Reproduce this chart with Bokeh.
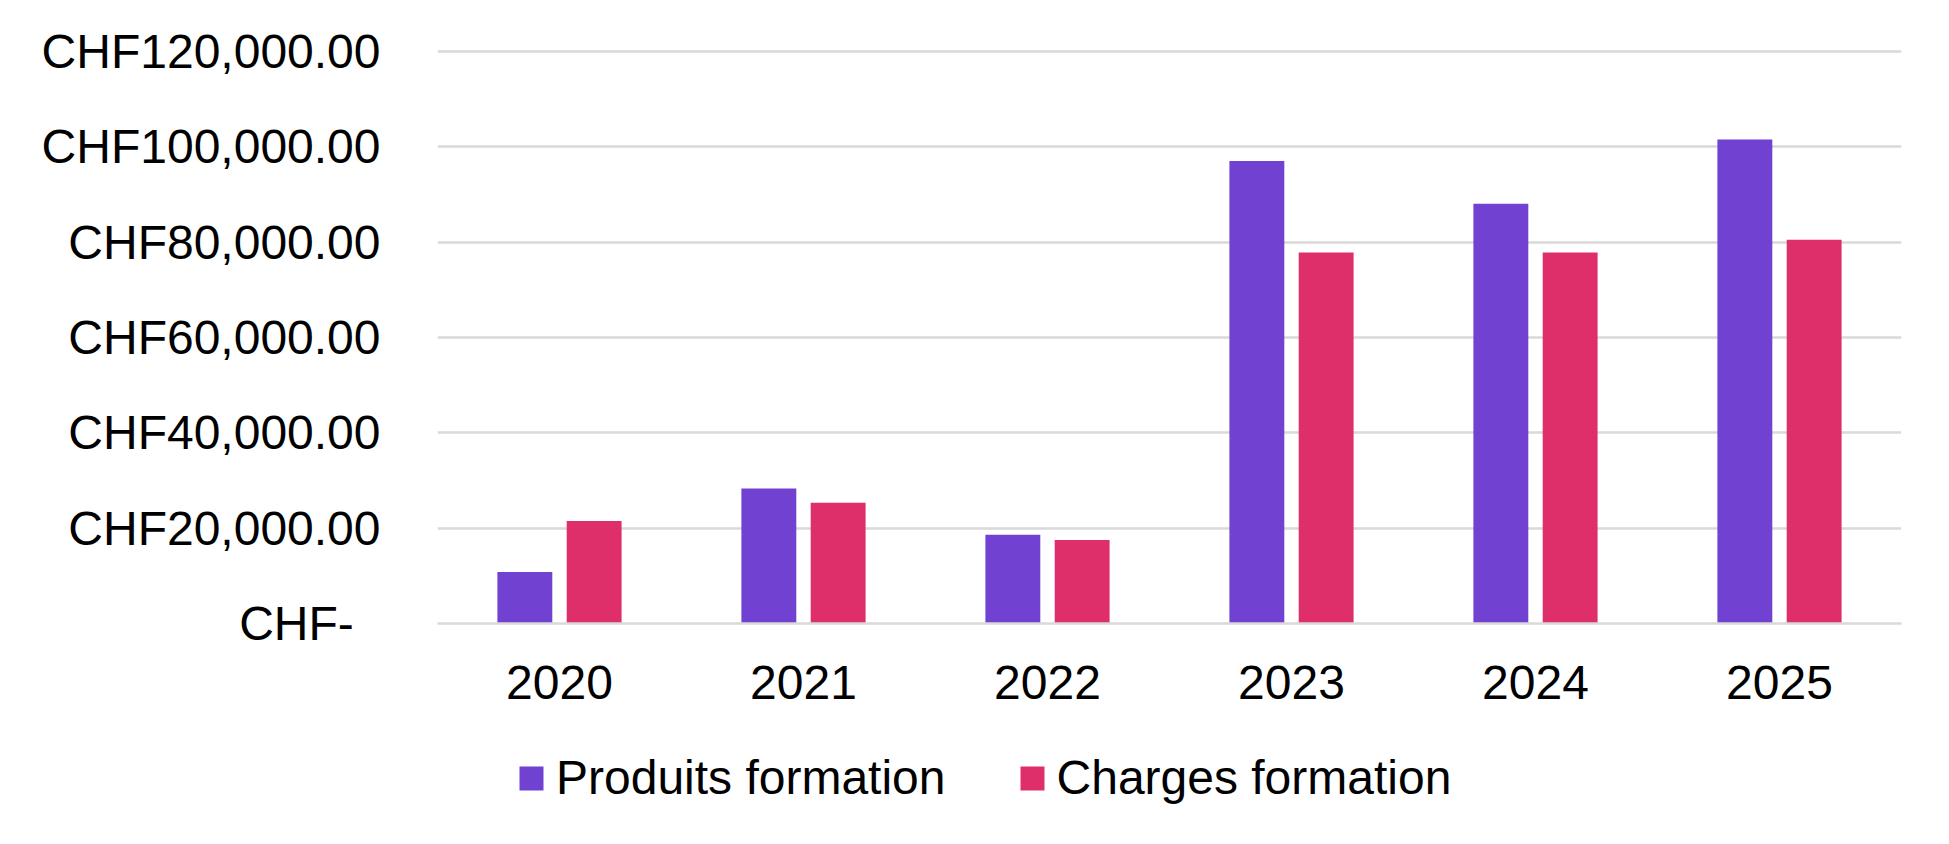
from bokeh.plotting import figure
from bokeh.layouts import column
from bokeh.models import ColumnDataSource, FactorRange, Range1d, Legend, LegendItem, FixedTicker
from bokeh.transform import dodge
from bokeh.embed import file_html
from bokeh.resources import INLINE

years = ["2020", "2021", "2022", "2023", "2024", "2025"]
produits = [10800, 28300, 18600, 97000, 88000, 101500]
charges = [21500, 25300, 17500, 77800, 77800, 80500]

y_ticks = [0, 20000, 40000, 60000, 80000, 100000, 120000]
y_labels = ["CHF-\u00a0\u00a0", "CHF20,000.00", "CHF40,000.00", "CHF60,000.00",
            "CHF80,000.00", "CHF100,000.00", "CHF120,000.00"]
series = ["Produits formation", "Charges formation"]

FONT = "Liberation Sans"
SIZE = "48px"
PURPLE = "#7141d1"
RED = "#de2f6b"

source = ColumnDataSource(data=dict(year=years, produits=produits, charges=charges))

# === Main chart === #
p = figure(x_range=FactorRange(factors=years), y_range=Range1d(0, 121000),
           width=1938, height=720, toolbar_location=None, tools="",
           output_backend="svg",
           min_border_left=437, min_border_right=37, min_border_top=46, min_border_bottom=97)

p.outline_line_color = None
p.background_fill_color = "white"
p.border_fill_color = "white"

p.vbar(x=dodge("year", -0.142, range=p.x_range), top="produits", width=0.225,
       source=source, fill_color=PURPLE, line_color=None)
p.vbar(x=dodge("year", 0.142, range=p.x_range), top="charges", width=0.225,
       source=source, fill_color=RED, line_color=None)

p.xgrid.grid_line_color = None
p.ygrid.grid_line_color = "#d9d9d9"
p.ygrid.grid_line_width = 2.5
p.yaxis.ticker = FixedTicker(ticks=y_ticks)
p.yaxis.major_label_overrides = {t: lab for t, lab in zip(y_ticks, y_labels)}

for ax in (p.xaxis, p.yaxis):
    ax.major_tick_line_color = None
    ax.minor_tick_line_color = None
    ax.major_label_text_font = FONT
    ax.major_label_text_font_size = SIZE
    ax.major_label_text_color = "black"

p.yaxis.axis_line_color = None
p.yaxis.major_label_standoff = 51
p.xaxis.axis_line_color = "#d9d9d9"
p.xaxis.axis_line_width = 2.5
p.xaxis.major_label_standoff = 36

# === Legend strip (below the chart, frame aligned with the chart) === #
leg = figure(width=1938, height=114, toolbar_location=None, tools="",
             output_backend="svg", x_axis_type=None, y_axis_type=None,
             x_range=FactorRange(factors=years), y_range=Range1d(0, 1),
             min_border=0, outline_line_color=None)
leg.xgrid.visible = False
leg.ygrid.visible = False
# hidden copies of the bars, only used for the legend swatches
k1 = leg.vbar(x=dodge("year", -0.142, range=leg.x_range), top="produits", width=0.225,
              source=source, fill_color=PURPLE, line_color=None, visible=False)
k2 = leg.vbar(x=dodge("year", 0.142, range=leg.x_range), top="charges", width=0.225,
              source=source, fill_color=RED, line_color=None, visible=False)

legend = Legend(items=[LegendItem(label=series[0], renderers=[k1]),
                       LegendItem(label=series[1], renderers=[k2])],
                orientation="horizontal", location=(79, 29),
                glyph_width=30, glyph_height=30, label_standoff=10, spacing=71,
                padding=0, margin=0, border_line_color=None, background_fill_alpha=0,
                inactive_fill_alpha=0, click_policy="none",
                label_text_font=FONT, label_text_font_size=SIZE, label_text_color="black")
leg.add_layout(legend, "center")

open("out.html", "w").write(file_html(column(p, leg, spacing=0), INLINE))
